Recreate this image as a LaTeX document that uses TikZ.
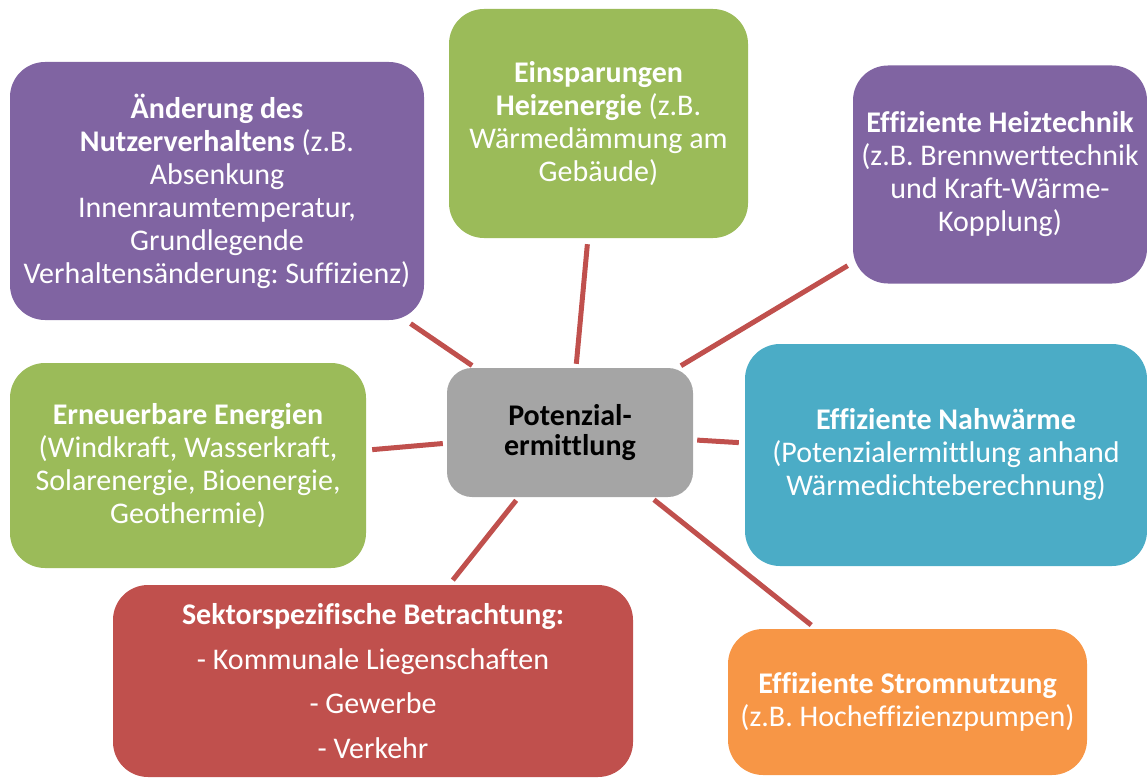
\documentclass[tikz,border=0pt]{standalone}
\usepackage{fontspec}
\setmainfont[Ligatures=NoCommon]{Carlito}
\frenchspacing
\definecolor{cpurple}{HTML}{8064A2}
\definecolor{cgreen}{HTML}{9BBB59}
\definecolor{cblue}{HTML}{4BACC6}
\definecolor{cred}{HTML}{C0504D}
\definecolor{corange}{HTML}{F79646}
\definecolor{cgray}{HTML}{A5A5A5}
\definecolor{linkred}{HTML}{C0504D}
\begin{document}
\begin{tikzpicture}[x=1pt,y=-1pt,
  box/.style={rounded corners=35pt, inner sep=0pt, align=center, text=white,
    font=\fontsize{30}{33}\selectfont},
  link/.style={draw=linkred, line width=5pt, shorten <=4pt, shorten >=6pt}]
\useasboundingbox (0,0) rectangle (1147,778);

\node[box, fill=cpurple, minimum width=414pt, minimum height=258pt] (nutz) at (217,191)
  {\textbf{Änderung des}\\\textbf{Nutzerverhaltens} (z.B.\\Absenkung\\Innenraumtemperatur,\\Grundlegende\\Verhaltensänderung: Suffizienz)};
\node[box, fill=cgreen, minimum width=299pt, minimum height=229pt] (heiz) at (598.5,123.5)
  {\textbf{Einsparungen}\\\textbf{Heizenergie} (z.B.\\Wärmedämmung am\\Gebäude)};
\node[box, fill=cpurple, minimum width=294pt, minimum height=218pt] (tech) at (1000,174.5)
  {\textbf{Effiziente Heiztechnik}\\(z.B. Brennwerttechnik\\und Kraft-Wärme-\\Kopplung)};
\node[box, fill=cgray, text=black, rounded corners=25pt, minimum width=246pt, minimum height=129pt,
  font=\fontsize{30}{30}\selectfont] (pot) at (570,432.5)
  {\textbf{Potenzial-}\\\textbf{ermittlung}};
\node[box, fill=cblue, minimum width=402pt, minimum height=222pt] (nah) at (946,455)
  {\textbf{Effiziente Nahwärme}\\(Potenzialermittlung anhand\\Wärmedichteberechnung)};
\node[box, fill=cgreen, minimum width=356pt, minimum height=205pt] (ern) at (188,465.5)
  {\textbf{Erneuerbare Energien}\\(Windkraft, Wasserkraft,\\Solarenergie, Bioenergie,\\Geothermie)};
\node[box, fill=cred, minimum width=520pt, minimum height=192pt,
  font=\fontsize{30}{44.5}\selectfont] (sek) at (373,681)
  {\textbf{Sektorspezifische Betrachtung:}\\- Kommunale Liegenschaften\\- Gewerbe\\- Verkehr};
\node[box, fill=corange, minimum width=359pt, minimum height=146pt] (strom) at (907.5,702)
  {\textbf{Effiziente Stromnutzung}\\(z.B. Hocheffizienzpumpen)};

\draw[link] (pot) -- (nutz);
\draw[link] (pot) -- (heiz);
\draw[link] (pot) -- (tech);
\draw[link] (pot) -- (nah);
\draw[link] (pot) -- (ern);
\draw[link] (pot) -- (sek);
\draw[link] (pot) -- (strom);
\end{tikzpicture}
\end{document}
